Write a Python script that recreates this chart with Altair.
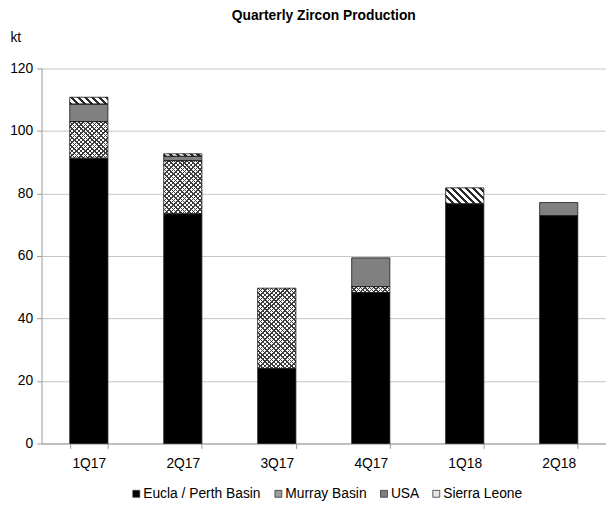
import altair as alt
import pandas as pd

# ---- data ----
quarters = ["1Q17", "2Q17", "3Q17", "4Q17", "1Q18", "2Q18"]
series = ["Eucla / Perth Basin", "Murray Basin", "USA", "Sierra Leone"]
eucla = [91.3, 73.5, 24.0, 48.3, 76.7, 72.9]
murray = [11.7, 17.0, 25.7, 1.9, 0.0, 0.0]
usa = [5.6, 1.4, 0.0, 9.2, 0.0, 4.2]
sierra = [2.2, 0.8, 0.0, 0.0, 5.1, 0.0]

rows = []
for si, (name, vals) in enumerate(zip(series, [eucla, murray, usa, sierra])):
    for q, v in zip(quarters, vals):
        rows.append({"quarter": q, "series": name, "value": v, "order": si})
df = pd.DataFrame(rows)

# ---- layout / style ----
FONT = "Liberation Sans, Arial, sans-serif"
W, H = 572, 380
PI, PO = 0.59375, 0.3
STEP = W / (len(quarters) - PI + 2 * PO)
BW = STEP * (1 - PI)          # bar width in px
PPU = H / 120.0               # px per kt


def stripe_stops(n, dark_frac, dark, light):
    out = []
    for i in range(n):
        a = i / n
        b = (i + dark_frac) / n
        c = (i + 1) / n
        out += [(a, dark), (b, dark), (b, light), (c, light)]
    return out


def stops_expr(stops):
    return "[" + ",".join("{offset:%.5f,color:'%s'}" % (o, c) for o, c in stops) + "]"


def diag_expr(direction, length_px, stops):
    # 45-degree stripes in screen space inside each bar's bounding box.
    # datum.kk = bar height / bar width, datum.ss = gradient length in bbox units
    if direction == "down":   # "\\" stripes
        return ("{gradient:'linear', x1:-datum.kk, y1:0, x2:-datum.kk + datum.ss, "
                "y2:-datum.ss*datum.kk, stops:%s}" % stops_expr(stops))
    return ("{gradient:'linear', x1:0.000001, y1:0, x2:datum.ss, "
            "y2:datum.ss*datum.kk, stops:%s}" % stops_expr(stops))


def with_geom(chart, length_px):
    return (
        chart.transform_calculate(kk="datum.value*%.6f/%.6f" % (PPU, BW))
        .transform_calculate(ss="%.6f/(%.6f*(1+datum.kk*datum.kk))" % (length_px, BW))
    )


# Murray Basin: diamond lattice = two crossing diagonal stripe sets
M_LEN, M_N = 126.0, 28
m_down = stripe_stops(M_N, 0.34, "#3c3c3c", "#ffffff")
m_up = stripe_stops(M_N, 0.34, "#3c3c3c", "rgba(255,255,255,0)")
# Sierra Leone: diagonal "\\" stripes
S_LEN, S_N = 63.0, 9
s_down = stripe_stops(S_N, 0.45, "#2a2a2a", "#ffffff")

x_enc = alt.X(
    "quarter:N", sort=quarters,
    scale=alt.Scale(paddingInner=PI, paddingOuter=PO),
    axis=alt.Axis(
        title=None, labelAngle=0, tickBand="extent", tickSize=5,
        domainColor="#999999", tickColor="#999999", labelPadding=8,
        labelFont=FONT, labelFontSize=14, labelColor="#000000",
    ),
)
y_enc = alt.Y(
    "y1:Q",
    scale=alt.Scale(domain=[0, 120], nice=False),
    axis=alt.Axis(
        values=[0, 20, 40, 60, 80, 100, 120], grid=True, gridColor="#c4c4c4",
        domainColor="#999999", tickColor="#999999", tickSize=5, labelPadding=4,
        labelFont=FONT, labelFontSize=14, labelColor="#000000",
        title="kt", titleAngle=0, titleAlign="left", titleBaseline="middle",
        titleX=-32, titleY=-31, titleFont=FONT, titleFontSize=14,
        titleFontWeight="normal", titleColor="#000000",
    ),
)

base = (
    alt.Chart(df)
    .transform_filter("datum.value > 0")
    .transform_stack(
        stack="value", groupby=["quarter"], as_=["y0", "y1"],
        sort=[alt.SortField("order", "ascending")],
    )
)

solid = base.mark_bar().encode(
    x=x_enc, y=y_enc, y2="y0:Q",
    color=alt.Color(
        "series:N",
        scale=alt.Scale(domain=series, range=["#000000", "#9c9c9c", "#808080", "#e6e6e6"]),
        legend=alt.Legend(
            title=None, orient="none", direction="horizontal", columns=4,
            legendX=89, legendY=424,
            symbolType="square", symbolSize=49, symbolStrokeColor="#333333",
            symbolStrokeWidth=0.8, labelFont=FONT, labelFontSize=14,
            labelColor="#000000", labelOffset=0, columnPadding=10,
        ),
    ),
)

murray = base.transform_filter(alt.datum.series == "Murray Basin")
murray_a = (
    with_geom(murray, M_LEN).transform_calculate(grad=diag_expr("down", M_LEN, m_down))
    .mark_bar().encode(x=x_enc, y=y_enc, y2="y0:Q", fill=alt.Fill("grad:N", scale=None))
)
murray_b = (
    with_geom(murray, M_LEN).transform_calculate(grad=diag_expr("up", M_LEN, m_up))
    .mark_bar().encode(x=x_enc, y=y_enc, y2="y0:Q", fill=alt.Fill("grad:N", scale=None))
)

sierra_layer = (
    with_geom(base.transform_filter(alt.datum.series == "Sierra Leone"), S_LEN)
    .transform_calculate(grad=diag_expr("down", S_LEN, s_down))
    .mark_bar().encode(x=x_enc, y=y_enc, y2="y0:Q", fill=alt.Fill("grad:N", scale=None))
)

outline = base.mark_bar(fillOpacity=0, stroke="#1a1a1a", strokeWidth=0.8).encode(
    x=x_enc, y=y_enc, y2="y0:Q"
)

chart = (
    alt.layer(solid, murray_a, murray_b, sierra_layer, outline)
    .properties(
        width=W, height=H,
        title=alt.TitleParams(
            "Quarterly Zircon Production", font=FONT, fontSize=14,
            fontWeight="bold", color="#000000", anchor="middle", offset=8,
        ),
        autosize=alt.AutoSizeParams(type="none"),
        padding={"left": 34, "top": 58, "right": 0, "bottom": 56},
    )
    .configure_view(stroke=None)
)

chart.save("out.html", embed_options={"renderer": "svg", "actions": False})
